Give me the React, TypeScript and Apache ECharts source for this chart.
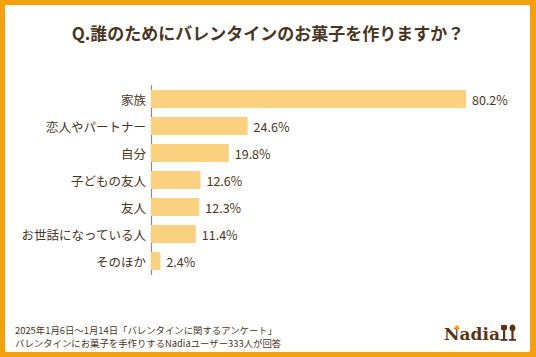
import React, { useEffect, useRef } from "react";
import * as echarts from "echarts";

const categories = ["家族", "恋人やパートナー", "自分", "子どもの友人", "友人", "お世話になっている人", "そのほか"];
const values = [80.2, 24.6, 19.8, 12.6, 12.3, 11.4, 2.4];
const titleText = "Q.誰のためにバレンタインのお菓子を作りますか？";
const footerLines = [
  "2025年1月6日～1月14日「バレンタインに関するアンケート」",
  "バレンタインにお菓子を手作りするNadiaユーザー333人が回答",
];
const logoText = "Nadia";

const BROWN = "#4B3621";
const LOGO = "#5B3316";
const ORANGE = "#F4A00F";
const BAR = "#FAD17F";
const FONT = "'Noto Sans CJK JP', 'Noto Sans', sans-serif";

function starPoints(cx: number, cy: number, r: number, r2: number) {
  const pts: number[][] = [];
  for (let i = 0; i < 10; i++) {
    const a = -Math.PI / 2 + (i * Math.PI) / 5;
    const rr = i % 2 === 0 ? r : r2;
    pts.push([cx + rr * Math.cos(a), cy + rr * Math.sin(a)]);
  }
  return pts;
}

export default function App() {
  const ref = useRef<HTMLDivElement>(null);
  useEffect(() => {
    document.body.style.margin = "0";
    if (!ref.current) return;
    const chart = echarts.init(ref.current, undefined, { renderer: "svg" });
    chart.setOption({
      animation: false,
      backgroundColor: "transparent",
      title: {
        text: titleText,
        left: "center",
        top: 19,
        textStyle: { fontFamily: FONT, fontSize: 17, fontWeight: "bold", color: BROWN },
      },
      grid: { left: 151, top: 85.5, height: 189, right: 70, containLabel: false },
      xAxis: {
        type: "value",
        min: 0,
        max: 80.2,
        show: false,
      },
      yAxis: {
        type: "category",
        data: categories,
        inverse: true,
        axisTick: { show: false },
        axisLine: { show: true, lineStyle: { color: "#8a8a8a", width: 1.2 } },
        axisLabel: { margin: 5, fontFamily: FONT, fontSize: 12.5, color: BROWN },
        splitLine: { show: false },
      },
      series: [
        {
          type: "bar",
          data: values,
          barCategoryGap: "33%",
          itemStyle: { color: BAR },
          label: {
            show: true,
            position: "right",
            distance: 6,
            formatter: (p: any) => `${p.value}%`,
            fontFamily: FONT,
            fontSize: 12.5,
            color: BROWN,
          },
        },
      ],
      graphic: [
        { type: "rect", z: -10, shape: { x: 0, y: 0, width: 536, height: 357 }, style: { fill: ORANGE } },
        { type: "rect", z: -9, shape: { x: 5, y: 5, width: 525, height: 347, r: 2 }, style: { fill: "#ffffff" } },
        ...footerLines.map((t, i) => ({
          type: "text",
          style: {
            text: t,
            x: 15,
            y: 330 + i * 12.5,
            verticalAlign: "middle",
            fontFamily: FONT,
            fontSize: 9.4,
            fill: BROWN,
          },
        })),
        {
          type: "text",
          style: {
            text: logoText,
            x: 444,
            y: 334,
            verticalAlign: "middle",
            fontFamily: "'DejaVu Serif', serif",
            fontWeight: "bold",
            fontSize: 17,
            fill: LOGO,
          },
        },
        { type: "polygon", z: 10, shape: { points: starPoints(457, 327.5, 3.5, 1.5) }, style: { fill: ORANGE } },
        // fork
        { type: "rect", shape: { x: 501, y: 325, width: 6, height: 5, r: 1 }, style: { fill: LOGO } },
        { type: "rect", shape: { x: 503, y: 329, width: 2.2, height: 11 }, style: { fill: LOGO } },
        { type: "rect", shape: { x: 500.5, y: 339, width: 7, height: 1.8 }, style: { fill: LOGO } },
        // spoon
        { type: "ellipse", shape: { cx: 512.5, cy: 328, rx: 3, ry: 3.5 }, style: { fill: LOGO } },
        { type: "rect", shape: { x: 511.4, y: 330, width: 2.2, height: 10 }, style: { fill: LOGO } },
        { type: "rect", shape: { x: 509, y: 339, width: 7, height: 1.8 }, style: { fill: LOGO } },
      ],
    });
    return () => chart.dispose();
  }, []);
  return <div ref={ref} style={{ width: 536, height: 357 }} />;
}
